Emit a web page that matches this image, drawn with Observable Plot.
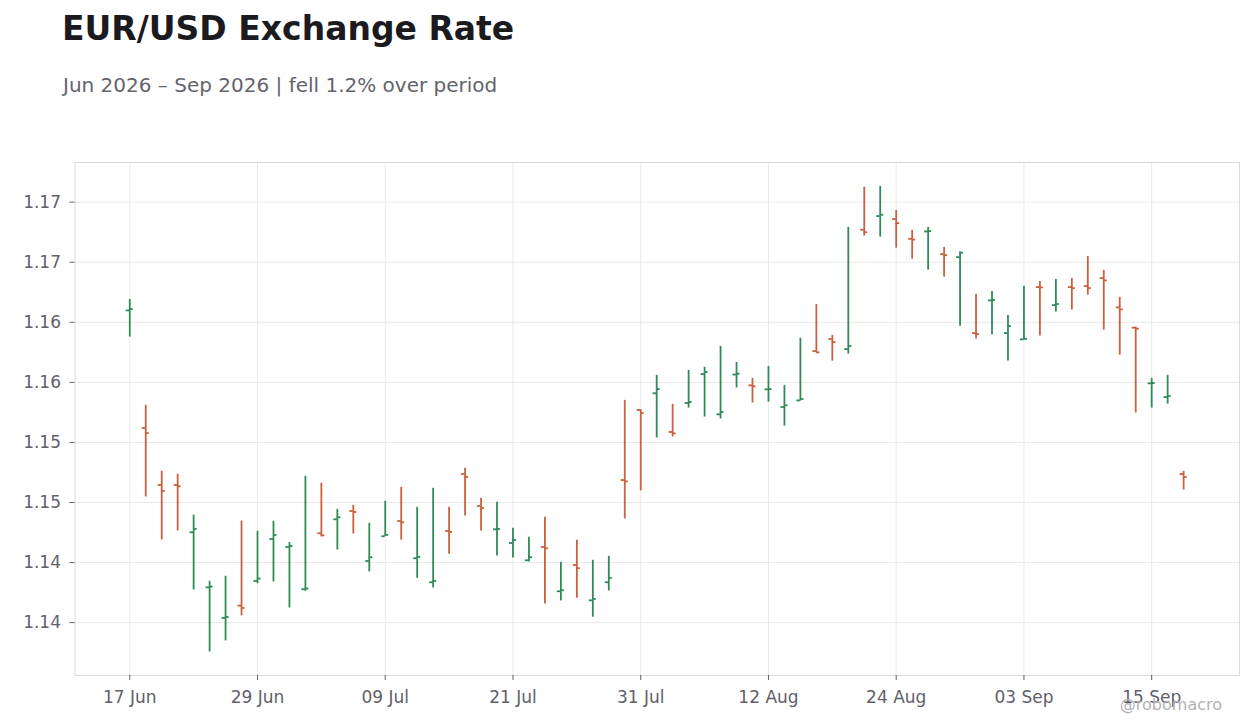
<!DOCTYPE html>
<html>
<head>
<meta charset="utf-8">
<script src="https://cdn.jsdelivr.net/npm/d3@7"></script>
<script src="https://cdn.jsdelivr.net/npm/@observablehq/plot@0.6"></script>
<style>
  html, body { margin: 0; padding: 0; background: #ffffff; }
  #wrap { position: relative; width: 1260px; height: 728px; overflow: hidden; font-family: "DejaVu Sans", sans-serif; }
  #title { position: absolute; left: 62px; top: 12px; font-size: 33px; line-height: 33px; font-weight: bold; color: #1b1b1f; white-space: nowrap; }
  #subtitle { position: absolute; left: 63px; top: 75px; font-size: 20px; line-height: 20px; color: #63646c; white-space: nowrap; }
  #chart { position: absolute; left: 0; top: 130px; }
  #credit { position: absolute; right: 38px; top: 697px; font-size: 16px; line-height: 16px; color: #b2b2b6; white-space: nowrap; }
</style>
</head>
<body>
<div id="wrap">
  <div id="title">EUR/USD Exchange Rate</div>
  <div id="subtitle">Jun 2026 – Sep 2026 | fell 1.2% over period</div>
  <div id="chart"></div>
  <div id="credit">@robomacro</div>
</div>
<script>
// Trading-day index (weekdays from 17 Jun 2026)
const dayIndex = d3.range(67);

const openVals = [
  1.16099, 1.15120, 1.14646, 1.14646, 1.14252, 1.13794, 1.13539, 1.13642, 1.13847, 1.14196,
  1.14130, 1.13778, 1.14244, 1.14360, 1.14429, 1.14013, 1.14219, 1.14346, 1.14036, 1.13836,
  1.14263, 1.14737, 1.14471, 1.14277, 1.14163, 1.14019, 1.14130, 1.13761, 1.13980, 1.13686,
  1.13836, 1.14687, 1.15270, 1.15409, 1.15087, 1.15328, 1.15569, 1.15234, 1.15565, 1.15475,
  1.15442, 1.15295, 1.15350, 1.15760, 1.15860, 1.15777, 1.16770, 1.16884, 1.16859, 1.16695,
  1.16756, 1.16567, 1.16542, 1.15910, 1.16182, 1.15910, 1.15858, 1.16293, 1.16143, 1.16293,
  1.16301, 1.16368, 1.16124, 1.15955, 1.15492, 1.15378, 1.14737
];
const highVals = [
  1.16190, 1.15309, 1.14760, 1.14735, 1.14394, 1.13844, 1.13886, 1.14346, 1.14260, 1.14344,
  1.14166, 1.14718, 1.14660, 1.14443, 1.14477, 1.14327, 1.14510, 1.14626, 1.14460, 1.14618,
  1.14460, 1.14785, 1.14535, 1.14502, 1.14285, 1.14210, 1.14377, 1.14002, 1.14186, 1.14019,
  1.14052, 1.15350, 1.15273, 1.15558, 1.15317, 1.15600, 1.15625, 1.15800, 1.15666, 1.15533,
  1.15633, 1.15475, 1.15867, 1.16149, 1.15891, 1.16790, 1.17125, 1.17131, 1.16931, 1.16765,
  1.16790, 1.16623, 1.16584, 1.16232, 1.16257, 1.16057, 1.16299, 1.16340, 1.16357, 1.16365,
  1.16548, 1.16432, 1.16207, 1.15960, 1.15533, 1.15558, 1.14760
];
const lowVals = [
  1.15877, 1.14546, 1.14188, 1.14263, 1.13772, 1.13256, 1.13348, 1.13556, 1.13825, 1.13839,
  1.13622, 1.13761, 1.14213, 1.14105, 1.14238, 1.13922, 1.14219, 1.14186, 1.13869, 1.13789,
  1.14069, 1.14388, 1.14263, 1.14055, 1.14038, 1.14005, 1.13656, 1.13681, 1.13703, 1.13545,
  1.13764, 1.14363, 1.14596, 1.15037, 1.15045, 1.15286, 1.15211, 1.15195, 1.15453, 1.15328,
  1.15336, 1.15136, 1.15344, 1.15747, 1.15677, 1.15735, 1.16717, 1.16709, 1.16617, 1.16526,
  1.16434, 1.16376, 1.15968, 1.15860, 1.15894, 1.15677, 1.15855, 1.15885, 1.16085, 1.16102,
  1.16226, 1.15935, 1.15727, 1.15245, 1.15286, 1.15319, 1.14604
];
const closeVals = [
  1.16110, 1.15078, 1.14596, 1.14635, 1.14280, 1.13800, 1.13547, 1.13622, 1.13867, 1.14230,
  1.14138, 1.13784, 1.14227, 1.14377, 1.14421, 1.14044, 1.14230, 1.14335, 1.14047, 1.13847,
  1.14255, 1.14712, 1.14454, 1.14280, 1.14188, 1.14044, 1.14119, 1.13770, 1.13953, 1.13697,
  1.13872, 1.14676, 1.15245, 1.15444, 1.15076, 1.15336, 1.15586, 1.15253, 1.15572, 1.15467,
  1.15444, 1.15309, 1.15361, 1.15750, 1.15835, 1.15802, 1.16750, 1.16895, 1.16825, 1.16688,
  1.16759, 1.16559, 1.16579, 1.15902, 1.16185, 1.15968, 1.15862, 1.16290, 1.16152, 1.16285,
  1.16285, 1.16349, 1.16107, 1.15947, 1.15494, 1.15386, 1.14712
];

const xTicks = [0, 8, 16, 24, 32, 40, 48, 56, 64];
const xTickLabels = ["17 Jun", "29 Jun", "09 Jul", "21 Jul", "31 Jul", "12 Aug", "24 Aug", "03 Sep", "15 Sep"];
const yTicks = [1.135, 1.14, 1.145, 1.15, 1.155, 1.16, 1.165, 1.17];

const upColor = "#2e8b57";
const downColor = "#c9603e";

const bars = dayIndex.map((i) => ({
  i,
  open: openVals[i],
  high: highVals[i],
  low: lowVals[i],
  close: closeVals[i],
  up: closeVals[i] >= openVals[i]
}));
const colorOf = (d) => (d.up ? upColor : downColor);

const fmt = d3.format(".2f");

const chart = Plot.plot({
  width: 1260,
  height: 598,
  marginTop: 32,
  marginBottom: 53,
  marginLeft: 74.5,
  marginRight: 21,
  x: { type: "linear", domain: [-3.43, 69.5] },
  y: { domain: [1.1306, 1.1733] },
  color: { type: "identity" },
  style: { fontFamily: "DejaVu Sans, sans-serif", fontSize: "17px", color: "#5f616a", background: "#ffffff" },
  marks: [
    Plot.gridX({ ticks: xTicks, stroke: "#e9e9e9", strokeOpacity: 1 }),
    Plot.gridY({ ticks: yTicks, stroke: "#e9e9e9", strokeOpacity: 1 }),
    Plot.frame({ stroke: "#dadada" }),
    Plot.axisX({
      ticks: xTicks,
      tickFormat: (d) => xTickLabels[xTicks.indexOf(d)],
      tickSize: 5,
      tickPadding: 10,
      label: null
    }),
    Plot.axisY({
      ticks: yTicks,
      tickFormat: (d) => fmt(d + 1e-9),
      tickSize: 5,
      tickPadding: 9,
      label: null
    }),
    Plot.ruleX(bars, { x: "i", y1: "low", y2: "high", stroke: colorOf, strokeWidth: 1.8 }),
    Plot.ruleY(bars, { y: "open", x1: (d) => d.i - 0.22, x2: "i", stroke: colorOf, strokeWidth: 1.8 }),
    Plot.ruleY(bars, { y: "close", x1: "i", x2: (d) => d.i + 0.22, stroke: colorOf, strokeWidth: 1.8 })
  ]
});
document.getElementById("chart").appendChild(chart);
</script>
</body>
</html>
